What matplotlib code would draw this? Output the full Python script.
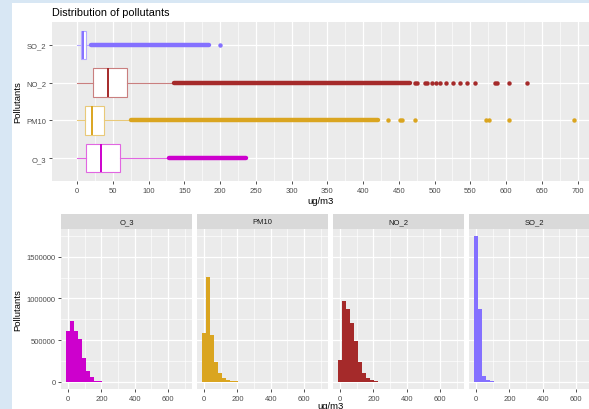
import matplotlib.pyplot as plt
from matplotlib.patches import Rectangle
from matplotlib.colors import to_rgb

plt.rcParams['font.family'] = ['Liberation Sans', 'DejaVu Sans']

# pollutants, bottom to top in the box plot
pollutants = ["O_3", "PM10", "NO_2", "SO_2"]
colors = ["#CD00CD", "#DAA520", "#A52A2A", "#8470FF"]

# box plot stats (ug/m3)
box_q1 = [12, 11, 23, 6]
box_med = [34, 20.5, 44, 8]
box_q3 = [59.5, 38, 69.5, 12]
whisker_lo = [0, 0, 0, 0]
whisker_hi = [128, 74.6, 136, 19]
# outliers so dense they merge into a band
band_lo = [128, 75, 136, 19]
band_hi = [237, 421, 465, 184]
# isolated outliers
outliers = [
    [],
    [435, 451, 455, 472, 572, 576, 604, 695],
    [472, 476, 486, 490, 497, 502, 507, 516, 526, 536, 545, 556, 585, 587, 604, 629],
    [200],
]

# histogram facets (left to right)
facets = ["O_3", "PM10", "NO_2", "SO_2"]
facet_colors = ["#CD00CD", "#DAA520", "#A52A2A", "#8470FF"]
bin_centers = [0, 24, 48, 72, 96, 120, 144, 168, 192, 216]
hist_counts = [
    [609000, 726000, 609000, 508000, 286000, 133000, 52000, 12000, 3000, 0],
    [589000, 1254000, 556000, 234000, 105000, 44000, 20000, 8000, 4000, 2000],
    [262000, 968000, 871000, 710000, 488000, 242000, 105000, 48000, 20000, 8000],
    [1746000, 879000, 73000, 16000, 5000, 2000, 0, 0, 0, 0],
]
box_xticks = list(range(0, 701, 50))
hist_xticks = [0, 200, 400, 600]
hist_yticks = [0, 500000, 1000000, 1500000]
hist_ytick_labels = ["0", "500000", "1000000", "1500000"]

W, H = 589, 410
fig = plt.figure(figsize=(W / 100, H / 100), dpi=100, facecolor="#d8e7f4")
fig.patches.append(Rectangle((12 / W, 0), 1, (H - 4) / H, transform=fig.transFigure,
                             facecolor="white", edgecolor="none", zorder=-5))


def px_axes(left, top, right, bottom):
    return fig.add_axes([left / W, 1 - bottom / H, (right - left) / W, (bottom - top) / H])


def ggplot_style(ax):
    ax.set_facecolor("#EBEBEB")
    for s in ax.spines.values():
        s.set_visible(False)
    ax.set_axisbelow(True)
    ax.grid(which="major", color="white", linewidth=0.9)
    ax.grid(which="minor", color="white", linewidth=0.45)
    ax.tick_params(which="major", length=2.5, width=0.6, color="#333333",
                   labelsize=5.5, labelcolor="#4d4d4d", pad=1.5)
    ax.tick_params(which="minor", length=0)


def lighten(c, f):
    r, g, b = to_rgb(c)
    return (r + (1 - r) * f, g + (1 - g) * f, b + (1 - b) * f)


# ---- top: box plots ----
ax = px_axes(52, 23, 589, 182)
ggplot_style(ax)
positions = list(range(1, len(pollutants) + 1))
for i, p in enumerate(pollutants):
    c = colors[i]
    light = lighten(c, 0.4)
    stats = [dict(med=box_med[i], q1=box_q1[i], q3=box_q3[i],
                  whislo=whisker_lo[i], whishi=whisker_hi[i], fliers=[])]
    ax.bxp(stats, positions=[positions[i]], widths=0.75, vert=False,
           patch_artist=True, showcaps=False, showfliers=False,
           boxprops=dict(facecolor="white", edgecolor=light, linewidth=0.8),
           whiskerprops=dict(color=light, linewidth=0.8),
           medianprops=dict(color=c, linewidth=1.4))
    ax.hlines(positions[i], band_lo[i], band_hi[i], color=c, linewidth=3.2,
              capstyle="round", zorder=3)
    ax.plot(outliers[i], [positions[i]] * len(outliers[i]), "o", color=c,
            markersize=3.2, markeredgewidth=0, zorder=3)
ax.set_yticks(positions)
ax.set_yticklabels(pollutants)
ax.set_ylim(0.4, 4.6)
ax.set_xticks(box_xticks)
ax.set_xticks([x + 25 for x in box_xticks[:-1]], minor=True)
ax.set_xlim(-35, 716)
ax.set_xlabel("ug/m3", fontsize=6.8, labelpad=2)
ax.set_ylabel("Pollutants", fontsize=6.8, labelpad=3)
fig.text(52 / W, 1 - 13 / H, "Distribution of pollutants", fontsize=7.8, va="center")

# ---- bottom: faceted histograms ----
panel_lefts = [61, 197, 333, 469]
for j, name in enumerate(facets):
    ax = px_axes(panel_lefts[j], 230, panel_lefts[j] + 131, 390)
    ggplot_style(ax)
    ax.bar(bin_centers, hist_counts[j], width=24, color=facet_colors[j], zorder=2)
    ax.set_xlim(-42, 744)
    ax.set_ylim(-87300, 1833300)
    ax.set_xticks(hist_xticks)
    ax.set_xticks([100, 300, 500, 700], minor=True)
    ax.set_yticks(hist_yticks)
    ax.set_yticks([250000, 750000, 1250000, 1750000], minor=True)
    if j == 0:
        ax.set_yticklabels(hist_ytick_labels)
        ax.set_ylabel("Pollutants", fontsize=6.8, labelpad=3)
    else:
        ax.tick_params(axis="y", which="major", length=0, labelleft=False)
    ax.add_patch(Rectangle((0, 1), 1, 15 / 160, transform=ax.transAxes,
                           facecolor="#D9D9D9", edgecolor="none", clip_on=False))
    ax.text(0.5, 1 + 7.5 / 160, name, transform=ax.transAxes, ha="center",
            va="center", fontsize=5.5, color="#1a1a1a")

fig.text(330 / W, 1 - 407 / H, "ug/m3", fontsize=6.8, ha="center", va="center")

fig.savefig("out.png", dpi=100, facecolor=fig.get_facecolor())
